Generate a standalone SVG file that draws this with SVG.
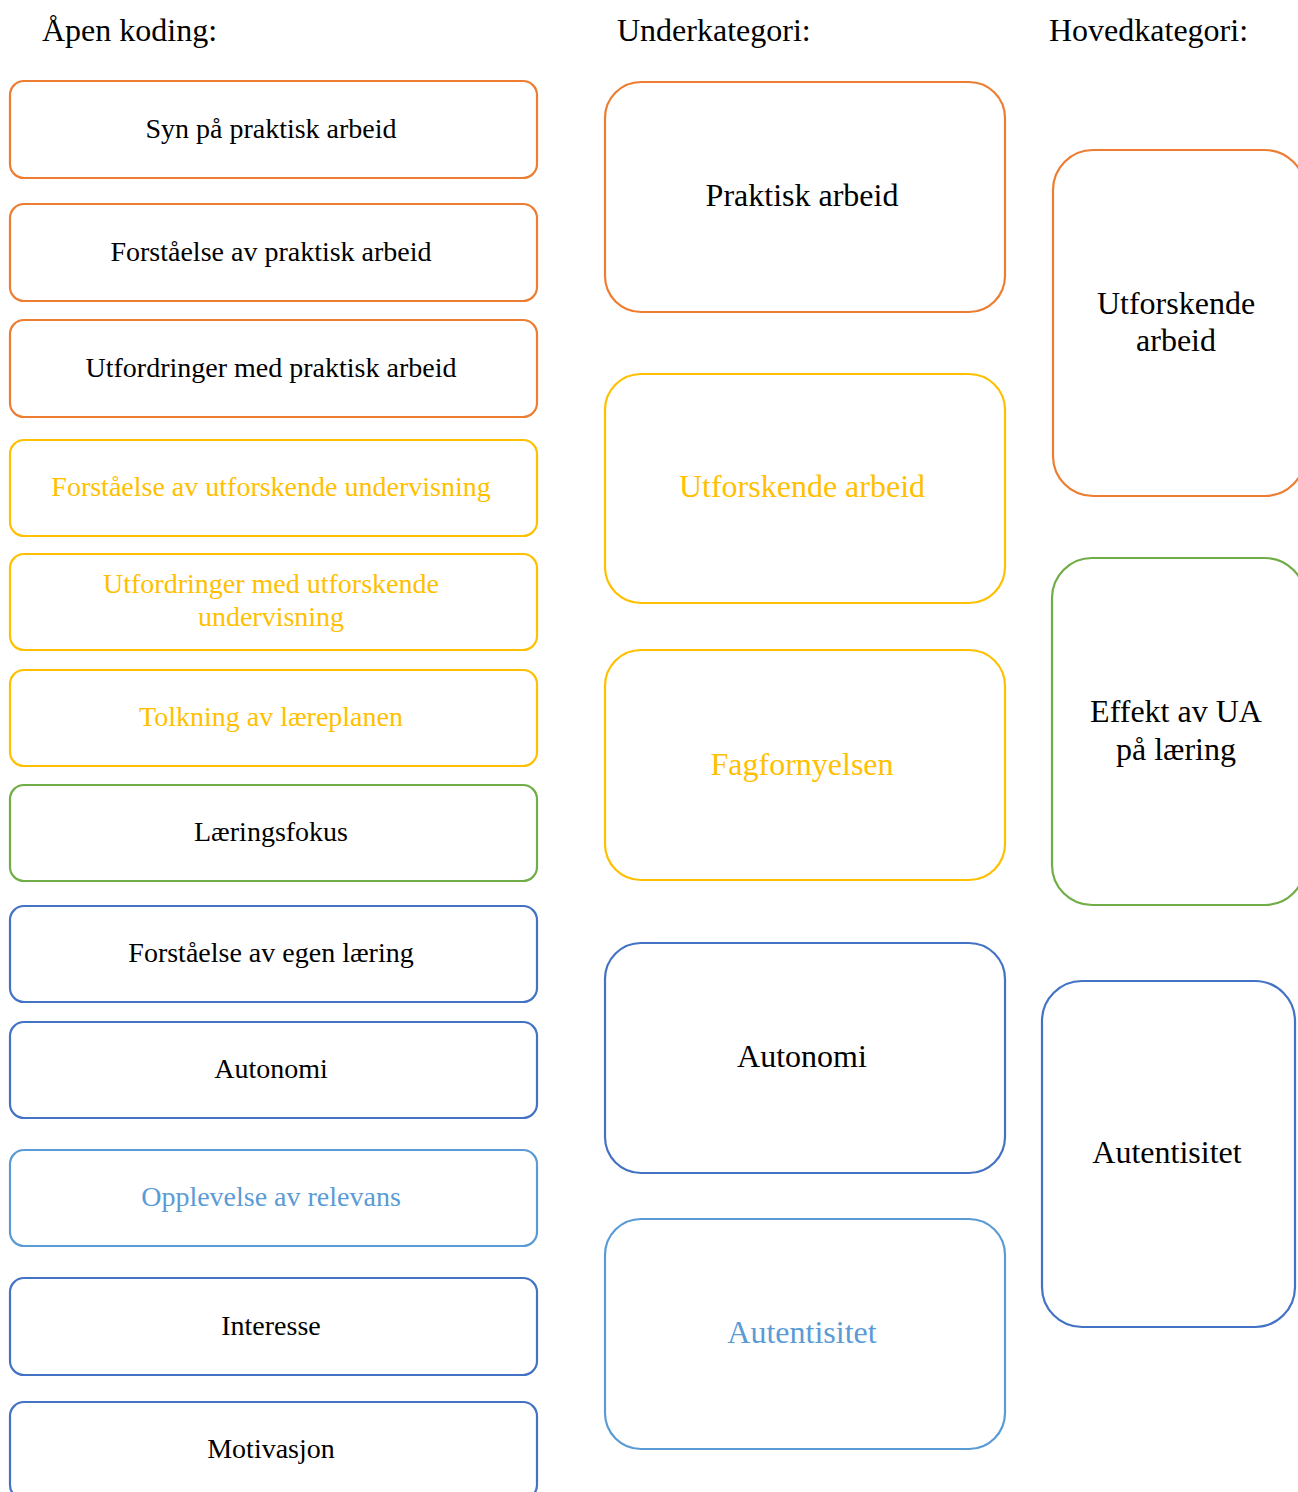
<svg xmlns="http://www.w3.org/2000/svg" width="1298" height="1492" viewBox="0 0 1298 1492">
<style>
text{font-family:"Liberation Serif","Times New Roman",serif;text-anchor:middle}
.h{font-size:32px;text-anchor:start;fill:#000}
.s{font-size:28px}
.m{font-size:32px}
rect{fill:#fff;stroke-width:2.2}
.o{stroke:#ED7D31}.y{stroke:#FFC000}.g{stroke:#70AD47}.b{stroke:#4472C4}.lb{stroke:#5B9BD5}
.ty{fill:#FFC000}.tk{fill:#000}.tlb{fill:#5B9BD5}
</style>
<rect x="0" y="0" width="1298" height="1492" style="fill:#fff;stroke:none"/>
<g id="headers">
<text class="h" x="42" y="41">Åpen koding:</text>
<text class="h" x="617" y="41">Underkategori:</text>
<text class="h" x="1049" y="41">Hovedkategori:</text>
</g>
<g id="open1"><rect class="o" x="10" y="81" width="527" height="97" rx="14"/><text class="s tk" x="271" y="138">Syn på praktisk arbeid</text></g>
<g id="open2"><rect class="o" x="10" y="204" width="527" height="97" rx="14"/><text class="s tk" x="271" y="261">Forståelse av praktisk arbeid</text></g>
<g id="open3"><rect class="o" x="10" y="320" width="527" height="97" rx="14"/><text class="s tk" x="271" y="377">Utfordringer med praktisk arbeid</text></g>
<g id="open4"><rect class="y" x="10" y="440" width="527" height="96" rx="14"/><text class="s ty" x="271" y="496">Forståelse av utforskende undervisning</text></g>
<g id="open5"><rect class="y" x="10" y="554" width="527" height="96" rx="14"/><text class="s ty" x="271" y="593">Utfordringer med utforskende</text><text class="s ty" x="271" y="626">undervisning</text></g>
<g id="open6"><rect class="y" x="10" y="670" width="527" height="96" rx="14"/><text class="s ty" x="271" y="726">Tolkning av læreplanen</text></g>
<g id="open7"><rect class="g" x="10" y="785" width="527" height="96" rx="14"/><text class="s tk" x="271" y="841">Læringsfokus</text></g>
<g id="open8"><rect class="b" x="10" y="906" width="527" height="96" rx="14"/><text class="s tk" x="271" y="962">Forståelse av egen læring</text></g>
<g id="open9"><rect class="b" x="10" y="1022" width="527" height="96" rx="14"/><text class="s tk" x="271" y="1078">Autonomi</text></g>
<g id="open10"><rect class="lb" x="10" y="1150" width="527" height="96" rx="14"/><text class="s tlb" x="271" y="1206">Opplevelse av relevans</text></g>
<g id="open11"><rect class="b" x="10" y="1278" width="527" height="97" rx="14"/><text class="s tk" x="271" y="1335">Interesse</text></g>
<g id="open12"><rect class="b" x="10" y="1402" width="527" height="97" rx="14"/><text class="s tk" x="271" y="1458">Motivasjon</text></g>
<g id="sub1"><rect class="o" x="605" y="82" width="400" height="230" rx="36"/><text class="m tk" x="802" y="206">Praktisk arbeid</text></g>
<g id="sub2"><rect class="y" x="605" y="374" width="400" height="229" rx="36"/><text class="m ty" x="802" y="497">Utforskende arbeid</text></g>
<g id="sub3"><rect class="y" x="605" y="650" width="400" height="230" rx="36"/><text class="m ty" x="802" y="775">Fagfornyelsen</text></g>
<g id="sub4"><rect class="b" x="605" y="943" width="400" height="230" rx="36"/><text class="m tk" x="802" y="1067">Autonomi</text></g>
<g id="sub5"><rect class="lb" x="605" y="1219" width="400" height="230" rx="36"/><text class="m tlb" x="802" y="1343">Autentisitet</text></g>
<g id="main1"><rect class="o" x="1053" y="150" width="252" height="346" rx="40"/><text class="m tk" x="1176" y="314">Utforskende</text><text class="m tk" x="1176" y="351">arbeid</text></g>
<g id="main2"><rect class="g" x="1052" y="558" width="253" height="347" rx="40"/><text class="m tk" x="1176" y="722">Effekt av UA</text><text class="m tk" x="1176" y="760">på læring</text></g>
<g id="main3"><rect class="b" x="1042" y="981" width="253" height="346" rx="40"/><text class="m tk" x="1167" y="1163">Autentisitet</text></g>
<g id="connectors"></g>
</svg>
